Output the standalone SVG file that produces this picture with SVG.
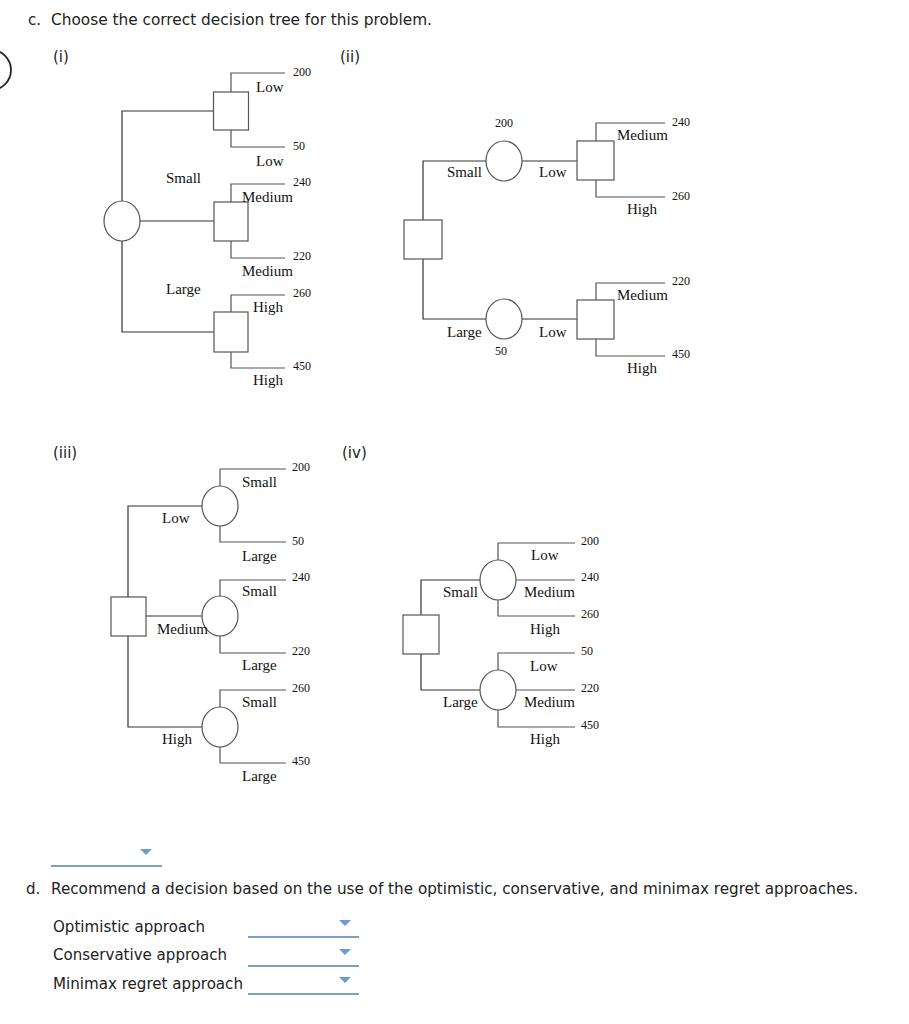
<svg xmlns="http://www.w3.org/2000/svg" width="909" height="1024" viewBox="0 0 909 1024">
<style>
.bg{fill:#fff}
.ui{font-family:"DejaVu Sans","Liberation Sans",sans-serif;font-size:15px;fill:#222}
.lb{font-family:"Liberation Serif","Times New Roman",serif;font-size:15px;fill:#111}
.nm{font-family:"Liberation Serif","Times New Roman",serif;font-size:12px;fill:#111}
.nd{fill:#fff;stroke:#555;stroke-width:1.2}
.cn{fill:none;stroke:#333;stroke-width:1.2}
.lf{fill:none;stroke:#555;stroke-width:1.2}
.dd{stroke:#4f7fba;stroke-width:1.5}
.tri{fill:#6b9bd2}
</style>
<rect class="bg" x="0" y="0" width="909" height="1024"/>
<circle cx="-9" cy="70" r="20" fill="none" stroke="#222" stroke-width="1.8"/>
<text class="ui" x="28" y="25">c.</text>
<text class="ui" x="51" y="25" textLength="381" lengthAdjust="spacingAndGlyphs">Choose the correct decision tree for this problem.</text>
<text class="ui" x="53" y="62">(i)</text>
<text class="ui" x="340" y="62">(ii)</text>
<text class="ui" x="53" y="458">(iii)</text>
<text class="ui" x="342" y="458">(iv)</text>

<!-- Tree (i) -->
<g id="tree1-connectors">
<path class="cn" d="M122,201 V111 H213.5"/>
<path class="cn" d="M140,221 H214"/>
<path class="cn" d="M122,241 V332 H214"/>
<path class="lf" d="M231,92 V73 H285"/>
<path class="lf" d="M231,130 V147 H285"/>
<path class="lf" d="M231,202 V184 H285"/>
<path class="lf" d="M231,241 V258 H285"/>
<path class="lf" d="M231,312 V295 H285"/>
<path class="lf" d="M231,352 V368 H285"/>
</g>
<g id="t1-chance"><ellipse class="nd" cx="122" cy="221" rx="18" ry="20"/></g>
<g id="t1-box1"><rect class="nd" x="213.5" y="92" width="35" height="38"/></g>
<g id="t1-box2"><rect class="nd" x="214" y="202" width="34" height="39"/></g>
<g id="t1-box3"><rect class="nd" x="214" y="312" width="34" height="40"/></g>
<g id="t1-labels">
<text class="nm" x="293" y="76">200</text>
<text class="lb" x="256" y="92">Low</text>
<text class="nm" x="293" y="150">50</text>
<text class="lb" x="256" y="166">Low</text>
<text class="lb" x="166" y="183">Small</text>
<text class="nm" x="293" y="186">240</text>
<text class="lb" x="242" y="202">Medium</text>
<text class="nm" x="293" y="260">220</text>
<text class="lb" x="242" y="276">Medium</text>
<text class="lb" x="166" y="294">Large</text>
<text class="nm" x="293" y="297">260</text>
<text class="lb" x="253" y="312">High</text>
<text class="nm" x="293" y="370">450</text>
<text class="lb" x="253" y="385">High</text>
</g>

<!-- Tree (ii) -->
<g id="tree2-connectors">
<path class="cn" d="M423,220 V161 H486"/>
<path class="cn" d="M522,161 H577"/>
<path class="cn" d="M423,259 V319 H486"/>
<path class="cn" d="M522,319 H577"/>
<path class="lf" d="M596,141 V123 H665"/>
<path class="lf" d="M596,180 V197 H665"/>
<path class="lf" d="M596,300 V283 H665"/>
<path class="lf" d="M596,339 V356 H665"/>
</g>
<g id="t2-decision"><rect class="nd" x="404" y="220" width="38" height="39"/></g>
<g id="t2-chance1"><ellipse class="nd" cx="504" cy="161" rx="18" ry="20"/></g>
<g id="t2-chance2"><ellipse class="nd" cx="504" cy="319" rx="18" ry="20"/></g>
<g id="t2-box1"><rect class="nd" x="577" y="141" width="37" height="39"/></g>
<g id="t2-box2"><rect class="nd" x="577" y="300" width="37" height="39"/></g>
<g id="t2-labels">
<text class="nm" x="495" y="127">200</text>
<text class="nm" x="672" y="126">240</text>
<text class="lb" x="617" y="140">Medium</text>
<text class="lb" x="447" y="177">Small</text>
<text class="lb" x="539" y="177">Low</text>
<text class="nm" x="672" y="200">260</text>
<text class="lb" x="627" y="214">High</text>
<text class="nm" x="672" y="285">220</text>
<text class="lb" x="617" y="300">Medium</text>
<text class="lb" x="447" y="337">Large</text>
<text class="lb" x="539" y="337">Low</text>
<text class="nm" x="495" y="355">50</text>
<text class="nm" x="672" y="358">450</text>
<text class="lb" x="627" y="373">High</text>
</g>

<!-- Tree (iii) -->
<g id="tree3-connectors">
<path class="cn" d="M128,597 V506 H202"/>
<path class="cn" d="M146,616 H202"/>
<path class="cn" d="M128,636 V727 H202"/>
<path class="lf" d="M220,486 V469 H286"/>
<path class="lf" d="M220,526 V542 H286"/>
<path class="lf" d="M220,596 V580 H286"/>
<path class="lf" d="M220,636 V653 H286"/>
<path class="lf" d="M220,707 V690 H286"/>
<path class="lf" d="M220,747 V763 H286"/>
</g>
<g id="t3-decision"><rect class="nd" x="111" y="597" width="35" height="39"/></g>
<g id="t3-chance1"><ellipse class="nd" cx="220" cy="506" rx="18" ry="20"/></g>
<g id="t3-chance2"><ellipse class="nd" cx="220" cy="616" rx="18" ry="20"/></g>
<g id="t3-chance3"><ellipse class="nd" cx="220" cy="727" rx="18" ry="20"/></g>
<g id="t3-labels">
<text class="nm" x="292" y="471">200</text>
<text class="lb" x="242" y="487">Small</text>
<text class="lb" x="162" y="523">Low</text>
<text class="nm" x="292" y="545">50</text>
<text class="lb" x="242" y="561">Large</text>
<text class="nm" x="292" y="581">240</text>
<text class="lb" x="242" y="596">Small</text>
<text class="lb" x="157" y="634">Medium</text>
<text class="nm" x="292" y="655">220</text>
<text class="lb" x="242" y="670">Large</text>
<text class="nm" x="292" y="692">260</text>
<text class="lb" x="242" y="707">Small</text>
<text class="lb" x="162" y="744">High</text>
<text class="nm" x="292" y="765">450</text>
<text class="lb" x="242" y="781">Large</text>
</g>

<!-- Tree (iv) -->
<g id="tree4-connectors">
<path class="cn" d="M421,615 V580 H480"/>
<path class="cn" d="M421,654 V690 H480"/>
<path class="lf" d="M498,560 V543 H575"/>
<path class="lf" d="M516,580 H575"/>
<path class="lf" d="M498,600 V616 H575"/>
<path class="lf" d="M498,670 V653 H575"/>
<path class="lf" d="M516,690 H575"/>
<path class="lf" d="M498,710 V727 H575"/>
</g>
<g id="t4-decision"><rect class="nd" x="403" y="615" width="36" height="39"/></g>
<g id="t4-chance1"><ellipse class="nd" cx="498" cy="580" rx="18" ry="20"/></g>
<g id="t4-chance2"><ellipse class="nd" cx="498" cy="690" rx="18" ry="20"/></g>
<g id="t4-labels">
<text class="nm" x="581" y="545">200</text>
<text class="lb" x="531" y="560">Low</text>
<text class="nm" x="581" y="581">240</text>
<text class="lb" x="443" y="597">Small</text>
<text class="lb" x="524" y="597">Medium</text>
<text class="nm" x="581" y="618">260</text>
<text class="lb" x="530" y="634">High</text>
<text class="nm" x="581" y="655">50</text>
<text class="lb" x="530" y="671">Low</text>
<text class="nm" x="581" y="692">220</text>
<text class="lb" x="443" y="707">Large</text>
<text class="lb" x="524" y="707">Medium</text>
<text class="nm" x="581" y="729">450</text>
<text class="lb" x="530" y="744">High</text>
</g>

<!-- Answer area -->
<g id="dropdown-c">
<line class="dd" x1="51" y1="866" x2="162" y2="866"/>
<polygon class="tri" points="140,849 152,849 146,855"/>
</g>
<text class="ui" x="26" y="894">d.</text>
<text class="ui" x="51" y="894" textLength="807" lengthAdjust="spacingAndGlyphs">Recommend a decision based on the use of the optimistic, conservative, and minimax regret approaches.</text>
<text class="ui" x="53" y="932" textLength="152" lengthAdjust="spacingAndGlyphs">Optimistic approach</text>
<text class="ui" x="53" y="960" textLength="174" lengthAdjust="spacingAndGlyphs">Conservative approach</text>
<text class="ui" x="53" y="989" textLength="190" lengthAdjust="spacingAndGlyphs">Minimax regret approach</text>
<g id="dropdown-opt">
<line class="dd" x1="248" y1="937" x2="359" y2="937"/>
<polygon class="tri" points="339,920 351,920 345,926"/>
</g>
<g id="dropdown-con">
<line class="dd" x1="248" y1="966" x2="359" y2="966"/>
<polygon class="tri" points="339,949 351,949 345,955"/>
</g>
<g id="dropdown-min">
<line class="dd" x1="248" y1="994" x2="359" y2="994"/>
<polygon class="tri" points="339,977 351,977 345,983"/>
</g>
</svg>
